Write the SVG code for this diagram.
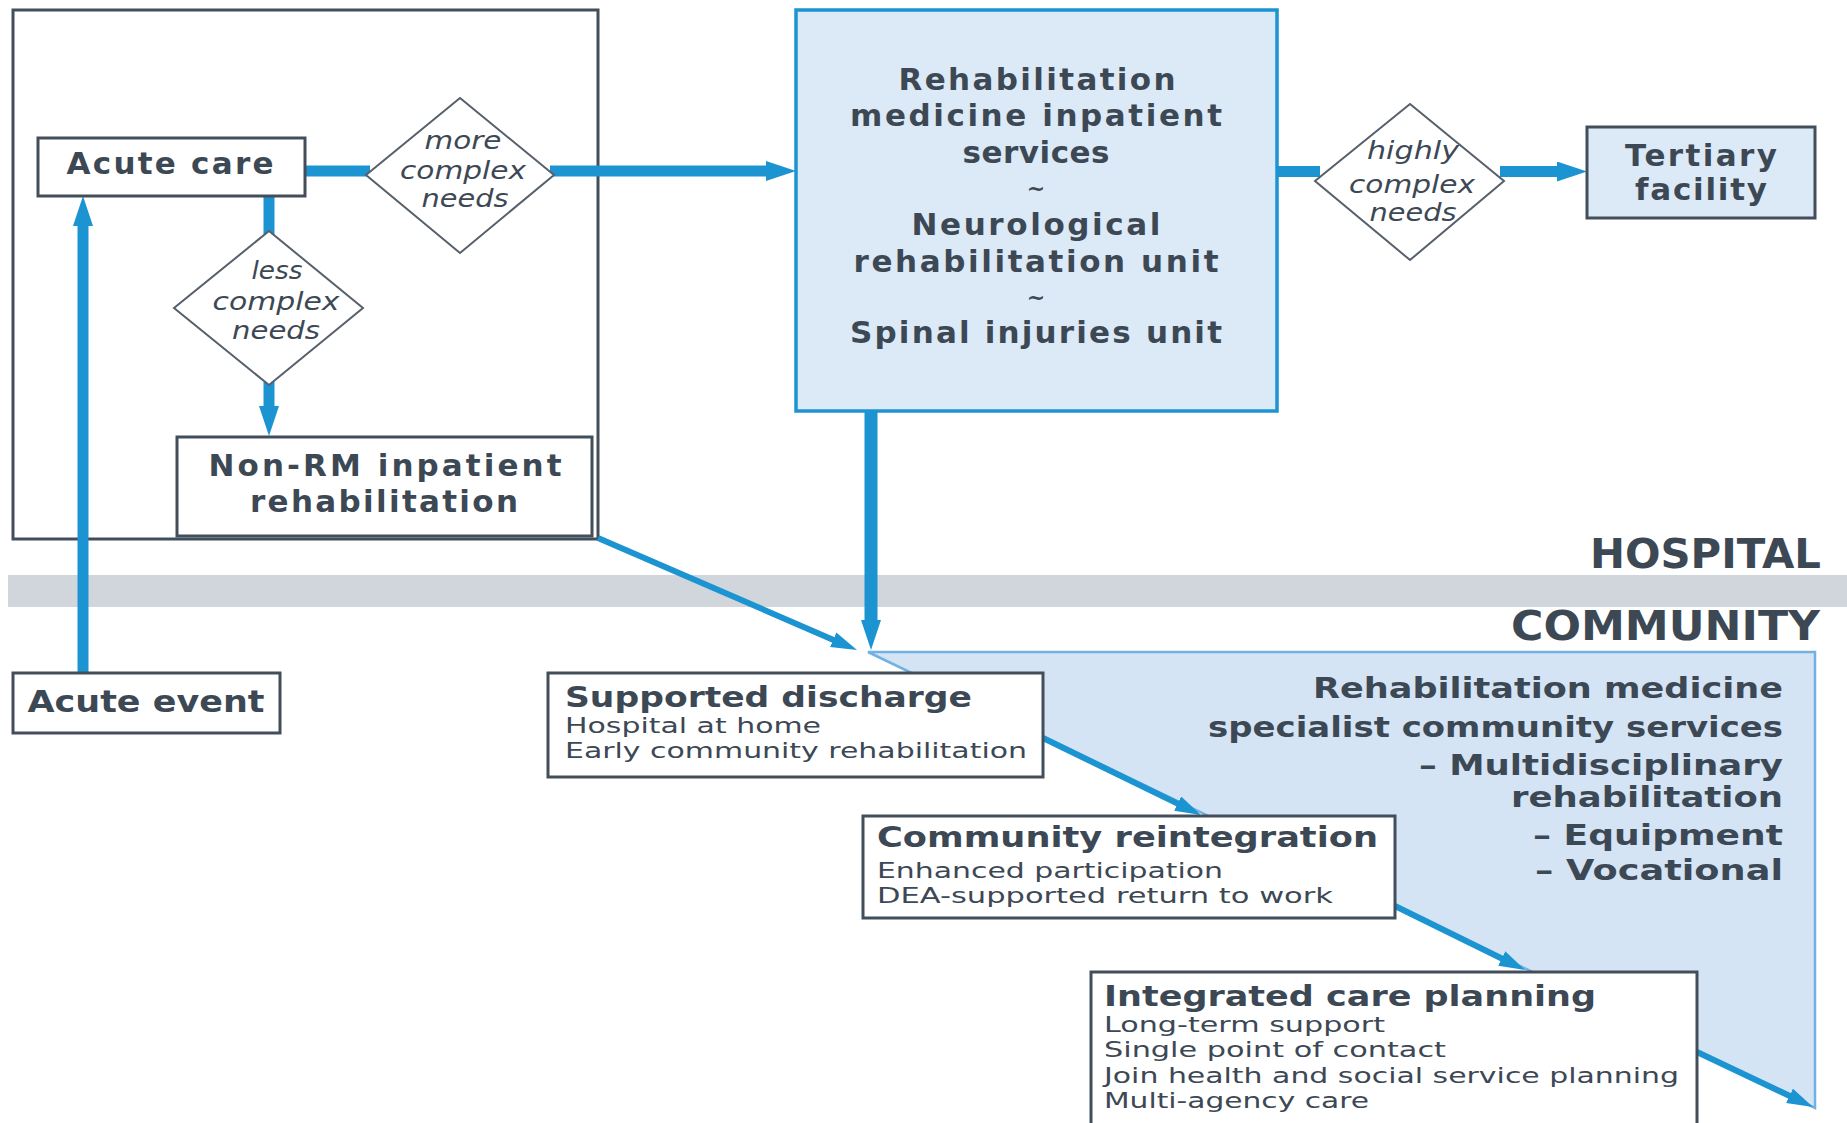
<svg xmlns="http://www.w3.org/2000/svg" width="1847" height="1123" viewBox="0 0 1847 1123">
<style>
.box{fill:#ffffff;stroke:#434e5b;stroke-width:3}
.tert{fill:#dce9f6;stroke:#434e5b;stroke-width:3}
.blue{fill:#dce9f6;stroke:#1c94d2;stroke-width:3.5}
.dia{fill:#ffffff;stroke:#56606b;stroke-width:2}
.c{fill:none;stroke:#1c94d2;stroke-width:11}
.cw{fill:none;stroke:#1c94d2;stroke-width:13}
.cn{fill:none;stroke:#1c94d2;stroke-width:6}
text{font-family:"DejaVu Sans","Liberation Sans",sans-serif;fill:#3d4855}
.b{font-weight:bold;font-size:31px}
.bs{font-weight:bold;font-size:28px}
.cs{font-weight:bold;font-size:28px}
.r{font-size:22px}
.i{font-style:italic;font-size:25px}
.zone{font-weight:bold;font-size:40px}
.m{text-anchor:middle}
.e{text-anchor:end}
</style>
<defs>
<marker id="ah" markerUnits="userSpaceOnUse" markerWidth="30" markerHeight="20" viewBox="0 0 30 20" refX="8" refY="10" orient="auto"><path d="M0,0 L30,10 L0,20 z" fill="#1c94d2"/></marker>
<marker id="aht" markerUnits="userSpaceOnUse" markerWidth="26" markerHeight="16" viewBox="0 0 26 16" refX="8" refY="8" orient="auto"><path d="M0,0 L26,8 L0,16 z" fill="#1c94d2"/></marker>
</defs>
<rect x="0" y="0" width="1847" height="1123" fill="#ffffff"/>

<g id="background">
<polygon points="868,652 1815,652 1815,1108" fill="#d4e4f5" stroke="#72b2e2" stroke-width="2.5"/>
<rect x="8" y="575" width="1839" height="32" fill="#d1d6dd"/>
<rect id="hospital-frame" x="13" y="10" width="585" height="529" fill="none" stroke="#434e5b" stroke-width="3"/>
<text class="zone e" x="1821" y="568" textLength="231" lengthAdjust="spacingAndGlyphs">HOSPITAL</text>
<text class="zone e" x="1820" y="640" textLength="309" lengthAdjust="spacingAndGlyphs">COMMUNITY</text>
<g id="community-services">
<text class="cs e" x="1783" y="698" textLength="470" lengthAdjust="spacingAndGlyphs">Rehabilitation medicine</text>
<text class="cs e" x="1783" y="737" textLength="575" lengthAdjust="spacingAndGlyphs">specialist community services</text>
<text class="cs e" x="1783" y="775" textLength="364" lengthAdjust="spacingAndGlyphs">– Multidisciplinary</text>
<text class="cs e" x="1783" y="807" textLength="272" lengthAdjust="spacingAndGlyphs">rehabilitation</text>
<text class="cs e" x="1783" y="845" textLength="250" lengthAdjust="spacingAndGlyphs">– Equipment</text>
<text class="cs e" x="1783" y="880" textLength="248" lengthAdjust="spacingAndGlyphs">– Vocational</text>
</g>
</g>

<g id="connectors">
<path class="c" d="M305,171 H370"/>
<path class="c" d="M550,171 H774" marker-end="url(#ah)"/>
<path class="c" d="M269,196 V235"/>
<path class="c" d="M269,382 V414" marker-end="url(#ah)"/>
<path class="c" d="M83,673 V218" marker-end="url(#ah)"/>
<path class="c" d="M1277,171.5 H1320"/>
<path class="c" d="M1500,171.5 H1565" marker-end="url(#ah)"/>
<path class="cw" d="M871,411 V628" marker-end="url(#ah)"/>
<path class="cn" d="M598,538 L840.5,642.9" marker-end="url(#aht)"/>
<path class="cn" d="M1043,738 L1184.8,807.1" marker-end="url(#aht)"/>
<path class="cn" d="M1395,906 L1508.9,962" marker-end="url(#aht)"/>
<path class="cn" d="M1697,1052 L1796.7,1099.3" marker-end="url(#aht)"/>
</g>

<g id="acute-care">
<rect class="box" x="38" y="138" width="267" height="58"/>
<text class="b m" x="170" y="174" textLength="207">Acute care</text>
</g>

<g id="more-complex-needs">
<polygon class="dia" points="460,98 554,175 460,253 366,175"/>
<text class="i m" x="463" y="149" textLength="77" lengthAdjust="spacingAndGlyphs">more</text>
<text class="i m" x="463" y="179" textLength="126" lengthAdjust="spacingAndGlyphs">complex</text>
<text class="i m" x="465" y="207" textLength="87" lengthAdjust="spacingAndGlyphs">needs</text>
</g>

<g id="less-complex-needs">
<polygon class="dia" points="269,231 363,308 269,385 174,308"/>
<text class="i m" x="277" y="279" textLength="51" lengthAdjust="spacingAndGlyphs">less</text>
<text class="i m" x="276" y="310" textLength="127" lengthAdjust="spacingAndGlyphs">complex</text>
<text class="i m" x="276" y="339" textLength="88" lengthAdjust="spacingAndGlyphs">needs</text>
</g>

<g id="non-rm-inpatient">
<rect class="box" x="177" y="437" width="415" height="99"/>
<text class="b m" x="385" y="476" textLength="353">Non-RM inpatient</text>
<text class="b m" x="384" y="512" textLength="268">rehabilitation</text>
</g>

<g id="rm-inpatient-services">
<rect class="blue" x="796" y="10" width="481" height="401"/>
<text class="b m" x="1037" y="90" textLength="277">Rehabilitation</text>
<text class="b m" x="1036" y="126" textLength="372">medicine inpatient</text>
<text class="b m" x="1036" y="163" textLength="147">services</text>
<text class="m" x="1036" y="196" font-size="22" font-weight="bold">~</text>
<text class="b m" x="1036" y="235" textLength="249">Neurological</text>
<text class="b m" x="1036" y="272" textLength="365">rehabilitation unit</text>
<text class="m" x="1036" y="305" font-size="22" font-weight="bold">~</text>
<text class="b m" x="1036" y="343" textLength="372">Spinal injuries unit</text>
</g>

<g id="highly-complex-needs">
<polygon class="dia" points="1410,104 1504,181 1410,260 1315,181"/>
<text class="i m" x="1413" y="159" textLength="92" lengthAdjust="spacingAndGlyphs">highly</text>
<text class="i m" x="1412" y="193" textLength="126" lengthAdjust="spacingAndGlyphs">complex</text>
<text class="i m" x="1413" y="221" textLength="87" lengthAdjust="spacingAndGlyphs">needs</text>
</g>

<g id="tertiary-facility">
<rect class="tert" x="1587" y="127" width="228" height="91"/>
<text class="b m" x="1701" y="166" textLength="152">Tertiary</text>
<text class="b m" x="1701" y="200" textLength="132">facility</text>
</g>

<g id="acute-event">
<rect class="box" x="13" y="673" width="267" height="60"/>
<text class="b m" x="146" y="712" textLength="237" lengthAdjust="spacingAndGlyphs">Acute event</text>
</g>

<g id="supported-discharge">
<rect class="box" x="548" y="673" width="495" height="104"/>
<text class="bs" x="565" y="707" textLength="407" lengthAdjust="spacingAndGlyphs">Supported discharge</text>
<text class="r" x="565" y="733" textLength="256" lengthAdjust="spacingAndGlyphs">Hospital at home</text>
<text class="r" x="565" y="758" textLength="462" lengthAdjust="spacingAndGlyphs">Early community rehabilitation</text>
</g>

<g id="community-reintegration">
<rect class="box" x="863" y="816" width="532" height="102"/>
<text class="bs" x="877" y="847" textLength="501" lengthAdjust="spacingAndGlyphs">Community reintegration</text>
<text class="r" x="877" y="878" textLength="346" lengthAdjust="spacingAndGlyphs">Enhanced participation</text>
<text class="r" x="877" y="903" textLength="456" lengthAdjust="spacingAndGlyphs">DEA-supported return to work</text>
</g>

<g id="integrated-care-planning">
<rect class="box" x="1091" y="972" width="606" height="170"/>
<text class="bs" x="1104" y="1006" textLength="492" lengthAdjust="spacingAndGlyphs">Integrated care planning</text>
<text class="r" x="1104" y="1032" textLength="281" lengthAdjust="spacingAndGlyphs">Long-term support</text>
<text class="r" x="1104" y="1057" textLength="342" lengthAdjust="spacingAndGlyphs">Single point of contact</text>
<text class="r" x="1104" y="1083" textLength="575" lengthAdjust="spacingAndGlyphs">Join health and social service planning</text>
<text class="r" x="1104" y="1108" textLength="265" lengthAdjust="spacingAndGlyphs">Multi-agency care</text>
</g>
</svg>
